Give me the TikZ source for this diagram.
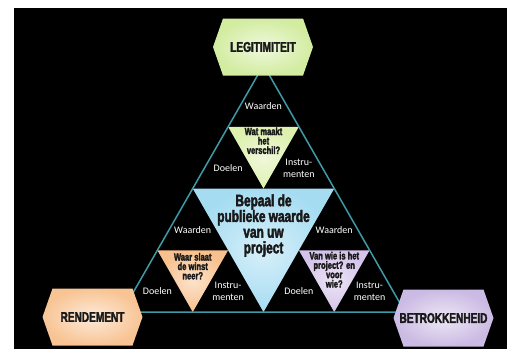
\documentclass[tikz,border=0pt]{standalone}
\usepackage{fontspec}
\setmainfont{Carlito}
\newfontfamily\heavyfont[FakeStretch=0.72, BoldFeatures={FakeBold=2.5}]{Liberation Sans}
\usetikzlibrary{calc}

\definecolor{rimline}{HTML}{3E9BA6}
\definecolor{legitfill}{HTML}{D2ECA0}
\definecolor{rendfill}{HTML}{F8C494}
\definecolor{betrfill}{HTML}{CBBAE3}
\definecolor{kernfill}{HTML}{A6DCF2}
\definecolor{topfill}{HTML}{DDF0AE}
\definecolor{leftfill}{HTML}{F8C08C}
\definecolor{rightfill}{HTML}{D4C3EA}

\tikzset{
  corner/.style={inner sep=0pt, text=black!90,
    font=\heavyfont\bfseries\fontsize{14}{16}\selectfont},
  question/.style={inner sep=0pt, align=center, text=black!90,
    font=\heavyfont\bfseries\fontsize{10.5}{9.4}\selectfont},
  kern/.style={inner sep=0pt, align=center, text=black!90,
    font=\heavyfont\bfseries\fontsize{16.5}{15.7}\selectfont},
  aspect/.style={inner sep=0pt, align=center, text=white,
    font=\fontsize{10}{12}\selectfont},
}

% hexagon with its label: name, centre, colour, text
\newcommand{\hexbox}[4]{%
  \shade[shift={(#2)}, inner color=white!65!#3, outer color=#3]
    (-50,0) -- (-40,-28.5) -- (40,-28.5) -- (50,0) -- (40,28.5) -- (-40,28.5) -- cycle;
  \node[corner] (#1) at (#2) {#4};
}

\begin{document}
\begin{tikzpicture}[x=1pt,y=-1pt]

  \useasboundingbox (0,0) rectangle (507,349);
  \fill[black] (14,8) rectangle (507,349);

  % corners of the big triangle and the midpoints of its sides
  \coordinate (A) at (263.5,65);
  \coordinate (B) at (122,312);
  \coordinate (C) at (405,312);
  \coordinate (mAB) at ($(A)!.5!(B)$);
  \coordinate (mAC) at ($(A)!.5!(C)$);
  \coordinate (mBC) at ($(B)!.5!(C)$);

  % central triangle
  \shade[inner color=white!55!kernfill, outer color=kernfill]
    (mAB) -- (mAC) -- (mBC) -- cycle;

  % the three corner triangles, each with its own small triangle
  \foreach \p/\q/\r/\n/\c in {A/mAB/mAC/t/topfill, mAB/B/mBC/l/leftfill, mAC/mBC/C/r/rightfill} {
      \coordinate (\n1) at ($(\p)!.5!(\q)$);
      \coordinate (\n2) at ($(\p)!.5!(\r)$);
      \coordinate (\n3) at ($(\q)!.5!(\r)$);
      \shade[inner color=white!55!\c, outer color=\c] (\n1) -- (\n2) -- (\n3) -- cycle;
      \node[aspect] (waarden-\n) at ($.3333*(\p)+.3333*(\n1)+.3333*(\n2)$) {Waarden};
      \node[aspect] (doelen-\n) at ($.3333*(\n1)+.3333*(\q)+.3333*(\n3)$) {Doelen};
      \node[aspect] (instr-\n) at ($.3333*(\n2)+.3333*(\n3)+.3333*(\r)$) {Instru-\\menten};
  }

  % outline
  \draw[rimline, line width=1.5pt, line join=round] (A) -- (B) -- (C) -- cycle;

  % questions
  \node[kern] (kern) at ($(mAB)!.5!(mAC)+(0,37)$) {Bepaal de\\publieke waarde\\van uw\\project};
  \node[question] (q-top) at ($(t1)!.5!(t2)+(0,14)$) {Wat maakt\\het\\verschil?};
  \node[question] (q-left) at ($(l1)!.5!(l2)+(0,16)$) {Waar slaat\\de winst\\neer?};
  \node[question] (q-right) at ($(r1)!.5!(r2)+(0,19.5)$) {Van wie is het\\project? en\\voor\\wie?};

  % hexagons at the corners
  \hexbox{legit}{263,47}{legitfill}{LEGITIMITEIT}
  \hexbox{rendement}{92.5,317}{rendfill}{RENDEMENT}
  \hexbox{betrokken}{443.5,318}{betrfill}{BETROKKENHEID}

\end{tikzpicture}
\end{document}
